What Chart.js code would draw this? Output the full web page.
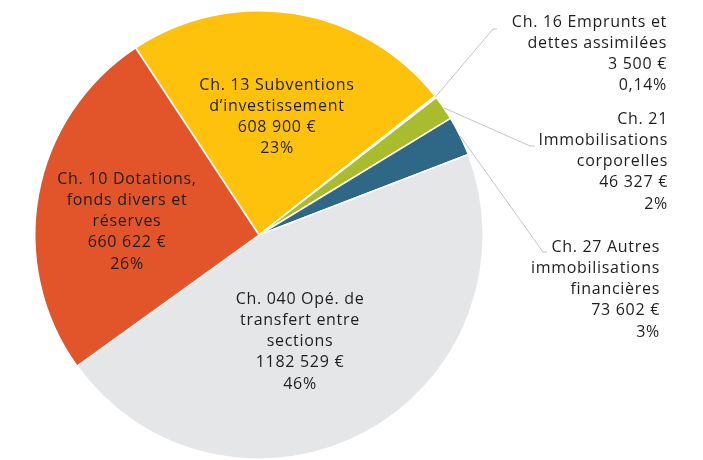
<!DOCTYPE html>
<html>
<head>
<meta charset="utf-8">
<script src="https://cdn.jsdelivr.net/npm/chart.js@4.4.1/dist/chart.umd.min.js"></script>
<style>
    html, body { margin: 0; padding: 0; background: #ffffff; }
    #wrap { width: 703px; height: 460px; }
</style>
</head>
<body>
<div id="wrap"><canvas id="pie" width="703" height="460"></canvas></div>
<script>
// Chart data
const chapters = [
    ['Ch. 13 Subventions', 'd\u2019investissement'],
    ['Ch. 16 Emprunts et', 'dettes assimil\u00e9es'],
    ['Ch. 21', 'Immobilisations', 'corporelles'],
    ['Ch. 27 Autres', 'immobilisations', 'financi\u00e8res'],
    ['Ch. 040 Op\u00e9. de', 'transfert entre', 'sections'],
    ['Ch. 10 Dotations,', 'fonds divers et', 'r\u00e9serves']
];
const amounts = [608900, 3500, 46327, 73602, 1182529, 660622];
const amountLabels = ['608 900 \u20ac', '3 500 \u20ac', '46 327 \u20ac', '73 602 \u20ac', '1182 529 \u20ac', '660 622 \u20ac'];
const shareLabels = ['23%', '0,14%', '2%', '3%', '46%', '26%'];

const sliceColors = ['#FEC20C', '#F2F2F2', '#A8BC2D', '#2F6787', '#E5E6E8', '#E2552A'];

// Label layout: inside labels are centred, outside ones are right aligned with a leader line
const labelLayout = [
    { x: 277, y: 85, align: 'center' },
    { x: 667, y: 22, align: 'right', elbow: [493, 29], end: [497, 29] },
    { x: 668, y: 119, align: 'right', elbow: [530, 146], end: [535, 146] },
    { x: 660, y: 247, align: 'right', elbow: [543, 252], end: [547, 252] },
    { x: 300, y: 299, align: 'center' },
    { x: 127, y: 179, align: 'center' }
];

const LINE_H = 21.3;

const labelPlugin = {
    id: 'sliceLabels',
    afterDatasetsDraw(chart) {
        const ctx = chart.ctx;
        const arcs = chart.getDatasetMeta(0).data;
        ctx.save();

        // leader lines
        ctx.strokeStyle = '#c4c4c4';
        ctx.lineWidth = 1;
        labelLayout.forEach((lay, i) => {
            if (!lay.elbow) return;
            const a = arcs[i].getProps(['x', 'y', 'startAngle', 'endAngle', 'outerRadius'], true);
            const mid = (a.startAngle + a.endAngle) / 2;
            const sx = a.x + Math.cos(mid) * a.outerRadius;
            const sy = a.y + Math.sin(mid) * a.outerRadius;
            ctx.beginPath();
            ctx.moveTo(sx, sy);
            ctx.lineTo(lay.elbow[0], lay.elbow[1]);
            ctx.lineTo(lay.end[0], lay.end[1]);
            ctx.stroke();
        });

        // texts
        ctx.fillStyle = '#1e1e1e';
        ctx.font = '16px "Open Sans", sans-serif';
        ctx.letterSpacing = '0.7px';
        ctx.textBaseline = 'middle';
        labelLayout.forEach((lay, i) => {
            const lines = chapters[i].concat([amountLabels[i], shareLabels[i]]);
            ctx.textAlign = lay.align;
            lines.forEach((t, k) => {
                ctx.fillText(t, lay.x, lay.y + k * LINE_H);
            });
        });
        ctx.restore();
    }
};

const ctx = document.getElementById('pie').getContext('2d');
window.pieChart = new Chart(ctx, {
    type: 'pie',
    data: {
        labels: chapters.map(c => c.join(' ')),
        datasets: [{
            data: amounts,
            backgroundColor: sliceColors,
            borderColor: '#ffffff',
            borderWidth: 1.5
        }]
    },
    options: {
        responsive: false,
        animation: false,
        rotation: 326.6,
        layout: {
            padding: { left: 33, right: 218, top: 10, bottom: 0 }
        },
        plugins: {
            legend: { display: false },
            tooltip: { enabled: false }
        }
    },
    plugins: [labelPlugin]
});
</script>
</body>
</html>
